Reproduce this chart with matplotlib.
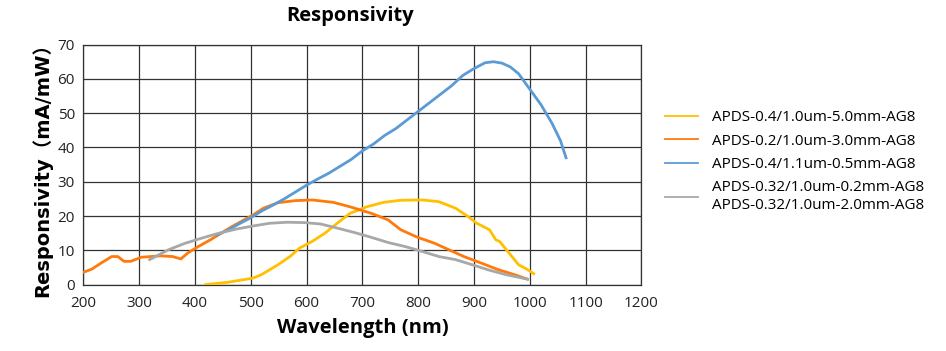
import matplotlib
matplotlib.use("Agg")
import matplotlib.pyplot as plt
from matplotlib.lines import Line2D

plt.rcParams['font.family'] = ['Open Sans', 'DejaVu Sans', 'Noto Sans CJK SC']

# ---- data ----
yellow_x = [419, 459, 504, 519, 549, 572, 587, 610, 633, 655, 678, 708, 738, 769, 807, 837, 867, 890, 905, 928, 939, 946, 958, 980, 996, 1007]
yellow_y = [0, 0.7, 1.9, 2.9, 5.8, 8.4, 10.6, 12.6, 15.0, 17.9, 20.8, 22.7, 24.0, 24.6, 24.7, 24.2, 22.3, 19.8, 17.9, 16.0, 13.1, 12.6, 10.2, 5.8, 4.4, 3.2]

orange_x = [200, 215, 232, 251, 262, 273, 285, 304, 338, 360, 375, 387, 406, 428, 466, 504, 523, 549, 580, 610, 648, 678, 716, 746, 769, 799, 829, 852, 882, 913, 943, 973, 996]
orange_y = [3.6, 4.5, 6.3, 8.2, 8.2, 6.8, 6.8, 8.0, 8.4, 8.2, 7.5, 9.2, 11.1, 13.1, 16.9, 20.3, 22.3, 23.9, 24.5, 24.7, 24.0, 22.7, 20.8, 18.9, 16.0, 13.8, 12.1, 10.4, 8.2, 6.3, 4.4, 2.9, 1.6]

blue_x = [440, 460, 480, 500, 520, 540, 560, 580, 600, 620, 640, 660, 680, 700, 720, 740, 760, 780, 800, 820, 840, 860, 880, 900, 920, 935, 950, 965, 980, 1000, 1020, 1040, 1055, 1065]
blue_y = [14.5, 16.0, 17.8, 19.5, 21.5, 23.2, 25.0, 27.0, 29.0, 30.8, 32.5, 34.5, 36.5, 39.0, 41.0, 43.5, 45.5, 48.0, 50.5, 53.0, 55.5, 58.0, 61.0, 63.0, 64.7, 65.0, 64.6, 63.5, 61.5, 57.0, 52.5, 47.0, 42.0, 37.0]

gray_x = [319, 353, 383, 413, 443, 474, 504, 534, 565, 595, 625, 655, 686, 716, 746, 777, 807, 837, 867, 897, 928, 958, 996]
gray_y = [7.3, 10.2, 12.1, 13.6, 15.0, 16.2, 17.1, 17.9, 18.2, 18.1, 17.7, 16.5, 15.2, 13.8, 12.3, 11.1, 9.7, 8.2, 7.3, 5.8, 4.2, 2.9, 1.6]

labels = ["APDS-0.4/1.0um-5.0mm-AG8",
          "APDS-0.2/1.0um-3.0mm-AG8",
          "APDS-0.4/1.1um-0.5mm-AG8",
          "APDS-0.32/1.0um-0.2mm-AG8\nAPDS-0.32/1.0um-2.0mm-AG8"]
x_ticks = [200, 300, 400, 500, 600, 700, 800, 900, 1000, 1100, 1200]
y_ticks = [0, 10, 20, 30, 40, 50, 60, 70]

colors = ["#FFC000", "#FF7A0A", "#5B9BD5", "#A8A8A8"]

fig = plt.figure(figsize=(9.46, 3.51), dpi=100)
ax = fig.add_axes([0.088, 0.189, 0.590, 0.684])

series = [(yellow_x, yellow_y), (orange_x, orange_y), (blue_x, blue_y), (gray_x, gray_y)]
for (xs, ys), c, lab in zip(series, colors, labels):
    ax.plot(xs, ys, color=c, lw=2.0, label=lab, zorder=3)

ax.set_xlim(200, 1200)
ax.set_ylim(0, 70)
ax.set_xticks(x_ticks)
ax.set_yticks(y_ticks)
ax.grid(True, color="#333333", lw=0.9)
ax.tick_params(length=0, labelsize=11, colors="#222222")
ax.tick_params(axis="x", pad=8)
ax.tick_params(axis="y", pad=6)
for s in ax.spines.values():
    s.set_color("#333333")
    s.set_linewidth(0.9)

ax.set_xlabel("Wavelength (nm)", fontsize=14.5, fontweight="bold", labelpad=5)
ax.set_ylabel("Responsivity（mA/mW）", fontsize=14, fontweight="bold", labelpad=4,
              family=['DejaVu Sans', 'Noto Sans CJK SC'])
fig.text(0.37, 0.955, "Responsivity", ha="center", va="center", fontsize=14.5, fontweight="bold")

handles = [Line2D([0], [0], color=c, lw=1.3) for c in colors]
fig.legend(handles, labels, loc="center left", bbox_to_anchor=(0.688, 0.54),
           frameon=False, fontsize=11, handlelength=2.2, handletextpad=0.9,
           labelspacing=0.55)

fig.savefig("out.png", dpi=100)
